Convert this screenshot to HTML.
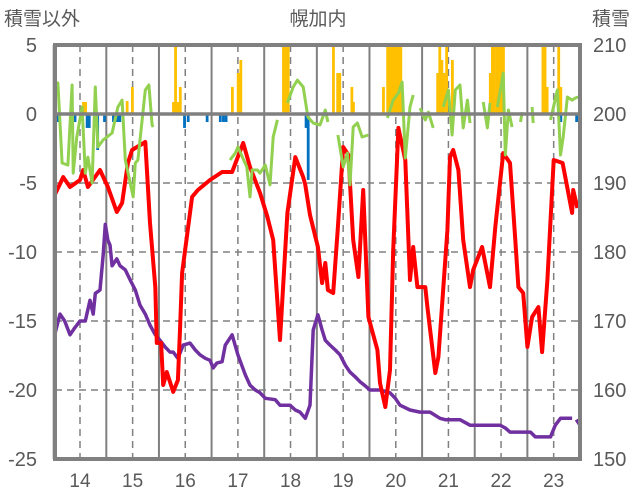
<!DOCTYPE html>
<html><head><meta charset="utf-8"><style>
html,body{margin:0;padding:0;background:#fff;}
svg{display:block;font-family:"Liberation Sans","Noto Sans CJK JP",sans-serif;}
</style></head><body>
<svg id="chart" width="636" height="501" viewBox="0 0 636 501" xmlns="http://www.w3.org/2000/svg">
<text x="318" y="25" text-anchor="middle" font-size="19" fill="#595959">幌加内</text>
<text x="4" y="25" font-size="19" fill="#595959">積雪以外</text>
<text x="592" y="25" font-size="19" fill="#595959">積雪</text>
<g id="grid"></g><g id="bars"></g><g id="series"></g><g id="axes"></g>
</svg>
<script>
const dayTicks=[14,15,16,17,18,19,20,21,22,23];
const leftTicks=[5,0,-5,-10,-15,-20,-25];
const rightTicks=[210,200,190,180,170,160,150];
const redT=[13.52,13.68,13.81,14.00,14.06,14.15,14.38,14.53,14.70,14.80,14.91,14.99,15.24,15.33,15.43,15.46,15.54,15.58,15.65,15.77,15.86,15.90,15.94,16.13,16.24,16.47,16.70,16.89,17.10,17.23,17.42,17.56,17.67,17.80,17.94,18.09,18.24,18.28,18.37,18.52,18.60,18.66,18.71,18.81,18.90,19.00,19.10,19.19,19.29,19.38,19.48,19.65,19.70,19.80,19.89,19.95,20.05,20.18,20.27,20.33,20.41,20.56,20.60,20.75,20.81,20.98,21.03,21.09,21.19,21.28,21.41,21.47,21.64,21.79,21.89,22.04,22.17,22.27,22.33,22.42,22.50,22.59,22.71,22.78,22.88,23.00,23.17,23.22,23.35,23.37,23.45];
const redV=[-5.87,-4.57,-5.29,-4.78,-4.06,-5.29,-4.06,-5.29,-7.10,-6.45,-3.55,-2.61,-2.03,-7.90,-12.54,-16.59,-16.59,-19.64,-18.70,-20.14,-19.28,-15.65,-11.52,-6.01,-5.51,-4.78,-4.20,-4.20,-2.10,-3.84,-5.72,-7.46,-9.13,-16.38,-7.17,-3.12,-4.57,-5.14,-7.32,-9.64,-12.25,-10.80,-12.75,-12.97,-8.19,-2.39,-2.97,-9.13,-11.81,-5.51,-14.71,-17.10,-19.49,-21.23,-18.55,-9.86,-1.01,-3.33,-12.03,-9.64,-12.54,-12.54,-13.99,-18.77,-17.61,-8.41,-3.12,-2.61,-4.06,-9.13,-12.54,-11.30,-9.64,-12.54,-8.19,-2.83,-3.55,-9.13,-12.54,-12.97,-16.88,-14.71,-13.99,-17.25,-12.03,-3.33,-3.55,-4.57,-7.17,-5.51,-6.81];
const greenT=[13.52,13.58,13.66,13.77,13.85,13.87,13.94,14.04,14.10,14.15,14.23,14.29,14.34,14.44,14.61,14.72,14.80,14.86,15.01,15.05,15.10,15.24,15.31,15.37,15.39,null,
16.85,16.95,17.00,17.17,17.23,17.27,17.37,17.42,17.52,17.61,17.67,17.75,null,
17.94,18.05,18.13,18.24,18.33,18.43,18.56,18.66,18.71,null,
18.90,19.00,19.08,19.13,19.19,19.27,19.36,19.48,null,
19.84,19.95,20.05,20.12,20.18,20.27,20.33,null,20.46,20.56,20.62,20.71,null,
20.90,21.00,21.07,21.13,21.22,21.28,21.36,21.41,null,21.66,21.74,21.79,null,
21.93,22.04,22.08,22.14,22.21,null,22.37,22.40,null,22.59,22.61,null,
22.94,23.07,23.13,23.18,23.26,23.35,23.41,23.47];
const greenV=[1.16,2.25,-3.55,-3.70,2.10,-4.28,-1.67,0.51,-4.28,-3.12,-5.00,1.96,-2.39,-1.88,-1.38,0.51,1.01,-3.33,-6.01,-3.55,-3.33,1.74,2.10,-0.80,-0.94,null,
-3.33,-2.83,-2.39,-3.84,-6.01,-4.06,-4.06,-4.28,-3.70,-5.14,-1.67,-0.43,null,
0.80,1.96,2.46,1.96,-0.22,-0.65,-0.80,0.29,-0.58,null,
-1.52,-3.84,-2.83,-5.14,-0.94,-0.65,-1.67,-1.52,null,
-0.29,1.01,1.52,2.32,-3.19,0.51,1.38,null,0.43,-0.43,0.14,-1.01,null,
0.51,1.74,-1.52,1.74,2.10,-1.01,1.01,-0.65,null,0.87,-1.01,0.80,null,
0.51,2.97,-2.97,0.29,-0.94,null,-0.58,0.14,null,0.51,-0.65,null,
-0.43,1.74,-2.97,-1.67,1.23,1.01,1.16,1.23];
const snowT=[13.52,13.62,13.71,13.81,13.90,14.00,14.10,14.19,14.25,14.29,14.38,14.44,14.48,14.53,14.57,14.61,14.70,14.76,14.86,14.95,15.05,15.14,15.24,15.33,15.43,15.52,15.62,15.71,15.77,15.86,15.96,16.09,16.19,16.28,16.38,16.47,16.53,16.60,16.70,16.76,16.89,17.00,17.14,17.23,17.33,17.42,17.52,17.71,17.80,17.99,18.09,18.18,18.28,18.37,18.43,18.52,18.60,18.66,18.75,18.85,18.94,19.04,19.13,19.23,19.32,19.42,19.51,19.70,19.89,19.99,20.08,20.27,20.46,20.65,20.84,20.94,21.22,21.41,21.98,22.08,22.17,22.56,22.65,22.94,23.03,23.13,23.35,null,23.43,23.50];
const snowV=[168,171,170,168,169,170,170,173,171,174,174.5,179.6,184,181.7,181,178,179,178,177.4,176,174.5,172.3,171,169.4,168,167.2,166.2,165.5,165.5,164.6,166.5,166.8,165.8,165.1,164.6,164.3,163.2,163.9,164.1,166.5,168,165.1,162.2,160.7,160,159.6,158.8,158.6,157.8,157.8,157.1,156.8,155.9,157.8,168.7,170.9,168.7,167.2,166.5,165.8,165.1,163.6,162.6,161.9,161.2,160.6,160,160,159.6,158.8,157.8,157.1,156.8,156.8,155.9,155.7,155.7,154.9,154.9,154.5,153.9,153.9,153.2,153.2,154.9,155.9,155.9,null,155.7,154.9];
const precipT=[14.06,14.10,14.89,14.99,15.77,15.81,15.85,15.90,16.89,17.00,17.05,17.86,17.90,17.95,18.81,18.89,18.93,19.16,19.19,19.76,19.84,19.88,19.92,19.96,20.00,20.05,20.09,20.79,20.83,20.87,20.91,20.96,21.07,21.79,21.83,21.87,21.92,21.96,22.00,22.04,22.79,22.83,22.87,23.09,23.13];
const precipV=[0.87,0.87,0.94,1.96,0.87,4.93,0.87,1.96,1.96,2.97,3.91,4.93,4.93,4.93,4.93,2.97,2.97,1.96,0.87,1.96,4.93,4.93,4.93,4.93,4.93,4.93,4.93,2.97,4.93,3.91,2.97,4.93,3.91,2.97,4.93,4.93,4.93,4.93,4.93,4.93,4.93,4.93,1.96,4.93,1.96];
const negT=[13.52,13.56,13.60,13.90,14.13,14.17,14.33,14.46,14.63,14.70,14.75,15.98,16.05,16.41,16.66,16.72,16.77,18.29,18.33,23.13,23.43];
const negV=[-0.58,-0.58,-0.58,-0.58,-1.01,-1.01,-2.61,-0.58,-0.58,-0.58,-0.58,-1.01,-0.58,-0.58,-0.58,-0.58,-0.58,-1.01,-4.78,-0.58,-0.58];

const L=55,R=580,T=45,B=459;
const tMin=13.525,tMax=23.5;
const x=t=>L+(t-tMin)/(tMax-tMin)*(R-L);
const y=v=>T+(5-v)/30*(B-T);
const y2=s=>T+(210-s)/60*(B-T);
const NS='http://www.w3.org/2000/svg';
function mk(tag,parent,attrs){const e=document.createElementNS(NS,tag);for(const k in attrs)e.setAttribute(k,attrs[k]);parent.appendChild(e);return e;}
const grid=document.getElementById('grid'),bars=document.getElementById('bars'),series=document.getElementById('series'),axes=document.getElementById('axes');
// horizontal dashed grid
leftTicks.forEach(v=>{if(v===5||v===0||v===-25)return;
 const g=mk('line',grid,{x1:L,x2:R,y1:y(v),y2:y(v),stroke:'#808080','stroke-width':1.5,'stroke-dasharray':'7,5'});
 
 });
// vertical lines
dayTicks.forEach(d=>{
 const dl=mk('line',grid,{x1:x(d),x2:x(d),y1:T,y2:B,stroke:'#808080','stroke-width':1.5,'stroke-dasharray':'7,5'});
 
 
 if(d+0.5<tMax-0.01){const sl=mk('line',grid,{x1:x(d+0.5),x2:x(d+0.5),y1:T,y2:B,stroke:'#808080','stroke-width':2});
 
 }
 if(d===14){const sl=mk('line',grid,{x1:x(d-0.5),x2:x(d-0.5),y1:T,y2:B,stroke:'#808080','stroke-width':2});}
 const lb=mk('text',axes,{x:x(d),y:487,'text-anchor':'middle','font-size':19,fill:'#595959'});
 lb.textContent=d;
 
 
});
const bw=(R-L)/(tMax-tMin)/24;
precipT.forEach((t,i)=>{const r=mk('rect',bars,{x:x(t)-bw/2,y:y(precipV[i]),width:bw+0.6,height:y(0)-y(precipV[i]),fill:'#FFC000'});
 
 });
negT.forEach((t,i)=>{const r=mk('rect',bars,{x:x(t)-bw/2,y:y(0),width:bw+0.6,height:y(negV[i])-y(0),fill:'#0070C0'});
 
 });
function path(ts,vs,fy){let d='',pen=false;ts.forEach((t,i)=>{if(t===null||vs[i]===null){pen=false;return;}d+=(pen?'L':'M')+x(t).toFixed(1)+','+fy(vs[i]).toFixed(1);pen=true;});return d;}
const ps=mk('path',series,{d:path(snowT,snowV,y2),fill:'none',stroke:'#7030A0','stroke-width':3.5,'stroke-linejoin':'round'});


const pr=mk('path',series,{d:path(redT,redV,y),fill:'none',stroke:'#FF0000','stroke-width':4,'stroke-linejoin':'round'});


const pg=mk('path',series,{d:path(greenT,greenV,y),fill:'none',stroke:'#92D050','stroke-width':3,'stroke-linejoin':'round'});


const z=mk('line',axes,{x1:L,x2:R,y1:y(0),y2:y(0),stroke:'#808080','stroke-width':3.5});


const fr=mk('rect',axes,{x:L,y:T,width:R-L,height:B-T,fill:'none',stroke:'#808080','stroke-width':4});


leftTicks.forEach(v=>{const t=mk('text',axes,{x:37,y:y(v)+7,'text-anchor':'end','font-size':20,fill:'#595959'});t.textContent=v;
 
 });
rightTicks.forEach(s=>{const t=mk('text',axes,{x:593,y:y2(s)+7,'font-size':20,fill:'#595959'});t.textContent=s;
 
 });
</script>
</body></html>
